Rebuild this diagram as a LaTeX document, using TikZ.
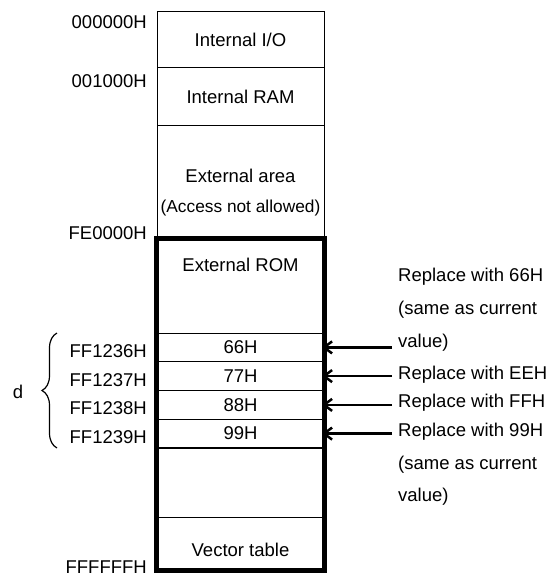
\documentclass[tikz,border=0pt]{standalone}
\usepackage{fontspec}
\setmainfont{Liberation Sans}
\usetikzlibrary{arrows.meta,decorations.pathreplacing}

\begin{document}
\begin{tikzpicture}[x=1pt,y=-1pt,font=\fontsize{18.5}{22}\selectfont,
  area/.style={draw=black,line width=1pt,minimum width=167pt,inner sep=0pt},
  frame/.style={draw=black,line width=4.5pt},
  addr/.style={anchor=east,inner sep=2pt},
  note/.style={anchor=west,inner sep=2pt},
  feed/.style={line width=2.5pt,-{Straight Barb[length=8pt,width=12pt]},shorten <=4pt,shorten >=-2.5pt},
  brace/.style={decorate,decoration={brace,amplitude=15pt},line width=1.2pt}]
\useasboundingbox (0,0) rectangle (552,578);
% memory areas
\node[area,minimum height=56pt] (io) at (240.5,40) {Internal I/O};
\node[area,minimum height=57pt] (ram) at (240.5,96.5) {Internal RAM};
\node[area,minimum height=114pt] (ext) at (240.5,182) {};
\node (extA) at (240.5,176) {External area};
\node[font=\fontsize{17.3}{20}\selectfont] (extB) at (240.5,208.5) {(Access not allowed)};
\node[area,minimum height=94pt] (rom) at (240.5,286) {};
\node (romA) at (240.5,265) {External ROM};
\node[area,minimum height=28.75pt] (r66) at (240.5,347.4) {66H};
\node[area,minimum height=28.75pt] (r77) at (240.5,376.1) {77H};
\node[area,minimum height=28.75pt] (r88) at (240.5,404.9) {88H};
\node[area,minimum height=28.75pt] (r99) at (240.5,433.6) {99H};
\node[area,minimum height=69pt] (free) at (240.5,482.5) {};
\node[area,minimum height=53pt] (vec) at (240.5,543.5) {};
\node (vecA) at (240.5,550) {Vector table};
\draw[frame] (rom.north west) rectangle (vec.south east);
% addresses
\node[addr] (a0) at (149,22) {000000H};
\node[addr] (a1) at (149,81.5) {001000H};
\node[addr] (a2) at (149,233) {FE0000H};
\node[addr] (a3) at (149,351.5) {FF1236H};
\node[addr] (a4) at (149,380) {FF1237H};
\node[addr] (a5) at (149,408.5) {FF1238H};
\node[addr] (a6) at (149,437.5) {FF1239H};
\node[addr] (a7) at (149,567) {FFFFFFH};
% data length
\coordinate (dtop) at (57,333);
\coordinate (dbot) at (57,448);
\draw[brace] (dbot) -- (dtop);
\node (d) at (18,392) {d};
% write values
\node[note] (t66a) at (396,277) {Replace with 66H};
\node[note] (t66b) at (396,310) {(same as current};
\node[note] (t66c) at (396,343) {value)};
\node[note] (tEE) at (396,375) {Replace with EEH};
\node[note] (tFF) at (396,403) {Replace with FFH};
\node[note] (t99a) at (396,432) {Replace with 99H};
\node[note] (t99b) at (396,465) {(same as current};
\node[note] (t99c) at (396,497) {value)};
\draw[feed] (r66.east -| t66c.west) -- (r66.east);
\draw[feed] (r77.east -| tEE.west) -- (r77.east);
\draw[feed] (r88.east -| tFF.west) -- (r88.east);
\draw[feed] (r99.east -| t99a.west) -- (r99.east);
\end{tikzpicture}
\end{document}
